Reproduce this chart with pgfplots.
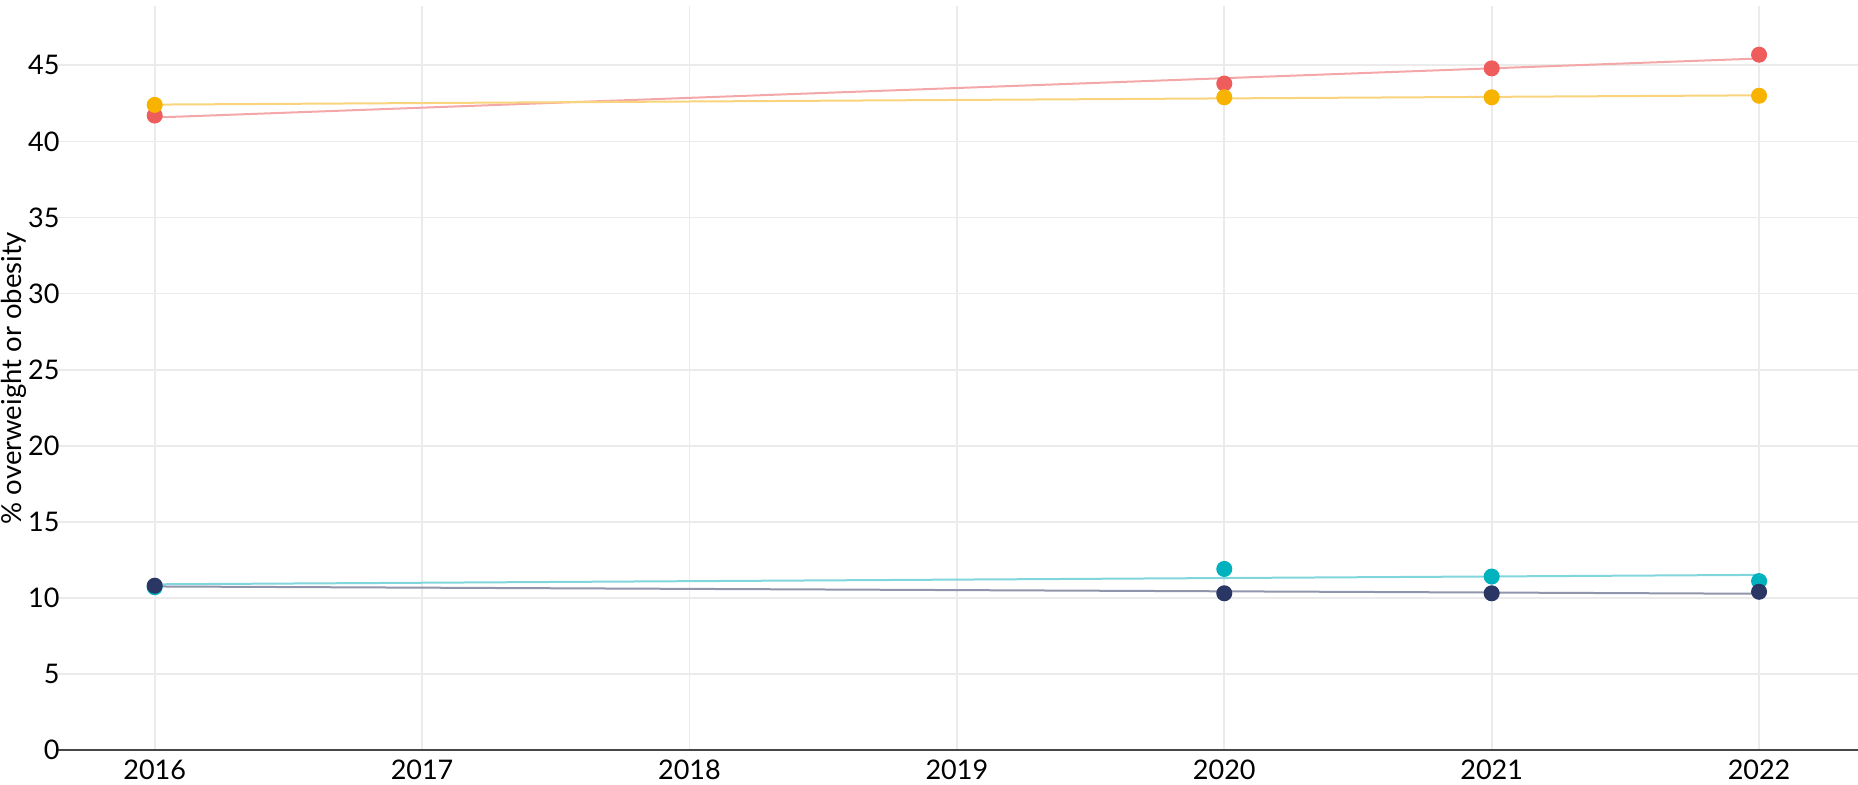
\documentclass[border=0pt]{standalone}
\usepackage{fontspec}
\setmainfont{Lato}
\usepackage{pgfplots}
\pgfplotsset{compat=1.18}
\definecolor{redpt}{HTML}{EE5C5C}
\definecolor{redln}{HTML}{F4A7A9}
\definecolor{yelpt}{HTML}{F8B300}
\definecolor{yelln}{HTML}{F9D47C}
\definecolor{tealpt}{HTML}{00B1BE}
\definecolor{tealln}{HTML}{80D6DC}
\definecolor{navypt}{HTML}{2A3765}
\definecolor{navyln}{HTML}{9095AB}
\definecolor{gridc}{HTML}{EBEBEB}
\begin{document}
\begin{tikzpicture}
\useasboundingbox (-22.3pt,-13.6pt) rectangle (720.9pt,300pt);
\begin{axis}[
  at={(0,0)}, anchor=south west,
  scale only axis, width=720.9pt, height=297.6pt,
  xmin=2015.63, xmax=2022.37, ymin=0, ymax=48.9,
  xtick={2016,2017,2018,2019,2020,2021,2022},
  ytick={0,5,...,45},
  xticklabel={\pgfmathprintnumber[1000 sep={},fixed]{\tick}},
  /pgf/number format/assume math mode=true,
  ticklabel style={font=\fontsize{10.8}{13}\selectfont, text=black},
  xticklabel style={yshift=-0.5pt},
  yticklabel style={xshift=5pt},
  major tick length=0pt,
  grid=major,
  major grid style={draw=gridc, line width=0.7pt},
  axis x line*=bottom, axis y line*=left, separate axis lines,
  x axis line style={draw=black!72, line width=0.8pt, -},
  y axis line style={draw=none},
  ylabel={\% overweight or obesity},
  every axis y label/.style={at={(axis description cs:-0.0232,0.5)}, rotate=90, anchor=center, font=\fontsize{11}{13}\selectfont},
  clip=false,
]
% trend lines
\addplot[redln, line width=0.8pt] coordinates {(2016,41.57) (2022,45.45)};
\addplot[yelln, line width=0.8pt] coordinates {(2016,42.42) (2022,43.03)};
\addplot[tealln, line width=0.8pt] coordinates {(2016,10.89) (2022,11.51)};
\addplot[navyln, line width=0.8pt] coordinates {(2016,10.75) (2022,10.27)};
% observed points
\addplot[only marks, mark=*, mark size=3pt, mark options={draw=redpt, fill=redpt}] coordinates {(2016,41.7) (2020,43.8) (2021,44.8) (2022,45.7)};
\addplot[only marks, mark=*, mark size=3pt, mark options={draw=tealpt, fill=tealpt}] coordinates {(2016,10.7) (2020,11.9) (2021,11.4) (2022,11.1)};
\addplot[only marks, mark=*, mark size=3pt, mark options={draw=yelpt, fill=yelpt}] coordinates {(2016,42.4) (2020,42.9) (2021,42.9) (2022,43.0)};
\addplot[only marks, mark=*, mark size=3pt, mark options={draw=navypt, fill=navypt}] coordinates {(2016,10.8) (2020,10.3) (2021,10.3) (2022,10.4)};
\end{axis}
\end{tikzpicture}
\end{document}
